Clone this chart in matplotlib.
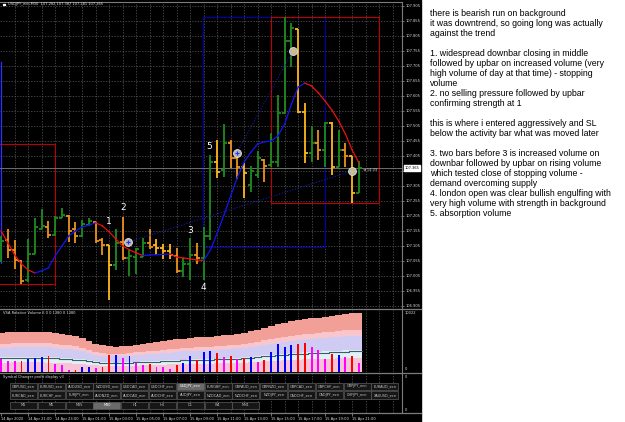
import numpy as np
import matplotlib
matplotlib.use('Agg')
import matplotlib.pyplot as plt
from matplotlib.patches import Rectangle
from matplotlib.transforms import blended_transform_factory

W, H = 625, 422

# ---- price bars (USDJPY M30) ----
bar_open = [107.108, 107.125, 107.092, 107.055, 106.992, 107.078, 107.162, 107.168, 107.142, 107.198,
            107.205, 107.162, 107.138, 107.175, 107.185, 107.125, 107.108, 107.042, 107.118, 107.065,
            107.068, 107.068, 107.115, 107.108, 107.098, 107.088, 107.072, 107.022, 107.045, 107.075,
            107.065, 107.138, 107.385, 107.358, 107.448, 107.398, 107.368, 107.308, 107.342, 107.392,
            107.375, 107.385, 107.548, 107.788, 107.828, 107.552, 107.415, 107.448, 107.425, 107.515,
            107.368, 107.425, 107.405, 107.282]
bar_high = [107.138, 107.162, 107.125, 107.058, 107.128, 107.198, 107.228, 107.188, 107.205, 107.232,
            107.208, 107.185, 107.192, 107.198, 107.185, 107.132, 107.108, 107.162, 107.202, 107.092,
            107.098, 107.132, 107.162, 107.128, 107.112, 107.112, 107.098, 107.065, 107.132, 107.115,
            107.168, 107.408, 107.458, 107.512, 107.458, 107.425, 107.382, 107.372, 107.422, 107.395,
            107.482, 107.608, 107.868, 107.848, 107.828, 107.582, 107.505, 107.492, 107.518, 107.518,
            107.492, 107.448, 107.405, 107.387]
bar_low = [107.052, 107.065, 107.028, 106.978, 106.985, 107.078, 107.160, 107.132, 107.138, 107.198,
           107.118, 107.115, 107.135, 107.172, 107.115, 107.075, 106.925, 107.025, 107.058, 107.005,
           107.012, 107.068, 107.095, 107.075, 107.062, 107.062, 107.015, 107.002, 106.992, 107.045,
           106.992, 107.125, 107.332, 107.335, 107.365, 107.328, 107.265, 107.285, 107.332, 107.318,
           107.368, 107.368, 107.548, 107.702, 107.548, 107.382, 107.385, 107.392, 107.368, 107.342,
           107.368, 107.368, 107.248, 107.281]
bar_close = [107.122, 107.092, 107.058, 106.988, 107.078, 107.168, 107.170, 107.142, 107.198, 107.208,
             107.155, 107.138, 107.178, 107.188, 107.122, 107.108, 107.042, 107.115, 107.065, 107.072,
             107.095, 107.115, 107.102, 107.098, 107.088, 107.075, 107.022, 107.045, 107.075, 107.065,
             107.138, 107.385, 107.352, 107.448, 107.398, 107.368, 107.348, 107.355, 107.398, 107.372,
             107.385, 107.548, 107.788, 107.832, 107.552, 107.415, 107.448, 107.425, 107.515, 107.368,
             107.425, 107.405, 107.282, 107.365]
# g = up bar, o = down bar, y = down bar (light)
bar_shade = "gooogggoggooggooygogggoyyyoggoggygooyggoggggyygogygoyg"

ma_line = [107.155, 107.115, 107.075, 107.045, 107.025, 107.015, 107.022, 107.032, 107.072, 107.105,
           107.138, 107.155, 107.168, 107.175, 107.182, 107.172, 107.152, 107.128, 107.105, 107.092,
           107.082, 107.073, 107.075, 107.076, 107.077, 107.078, 107.068, 107.065, 107.062, 107.058,
           107.057, 107.092, 107.148, 107.208, 107.272, 107.335, 107.385, 107.418, 107.445, 107.452,
           107.455, 107.472, 107.512, 107.578, 107.635, 107.648, 107.638, 107.615, 107.588, 107.558,
           107.522, 107.478, 107.425, 107.382]

last_price = 107.365

# ---- volume panel ----
volume = [2120, 1890, 1840, 1840, 2220, 2390, 2560, 2670, 1340, 1170,
          330, 330, 890, 890, 620, 890, 2840, 2840, 2290, 2670,
          1450, 1170, 1340, 890, 890, 500, 1120, 1450, 2720, 2000,
          3290, 3510, 3220, 2560, 2670, 2120, 2290, 2450, 1720, 2000,
          3290, 4680, 4230, 4460, 4630, 4890, 4120, 3670, 2220, 3010,
          2840, 2560, 2670, 1550]
volume_kind = "MMMRBBBRMMMRBBMRRBMBMMRMMMRBBRBBRMRMRBMRBBBBRRMMMRBMRM"
volume_avg = [2290, 2320, 2350, 2360, 2360, 2360, 2350, 2330, 2290, 2230,
              2160, 2080, 1990, 1820, 1640, 1550, 1490, 1480, 1490, 1530,
              1590, 1650, 1700, 1750, 1800, 1850, 1900, 1950, 1990, 2020,
              2050, 2070, 2100, 2150, 2190, 2240, 2290, 2380, 2480, 2590,
              2690, 2780, 2870, 2960, 3040, 3090, 3130, 3180, 3220, 3280,
              3340, 3400, 3440, 3450]
band_levels = [0.0, 0.68, 1.07, 1.76, 2.05, 2.86]
band_colours = ['#f7c4d6', '#dff0f7', '#cfcbf3', '#f9c6ce', '#f29f97']

# ---- annotations ----
price_ticks = [107.905, 107.855, 107.805, 107.755, 107.705, 107.655, 107.605, 107.555, 107.505,
               107.455, 107.405, 107.355, 107.305, 107.255, 107.205, 107.155, 107.105, 107.055,
               107.005, 106.955, 106.905]
time_bars = [0, 4, 8, 12, 16, 20, 24, 28, 32, 36, 40, 44, 48, 52]
time_labels = ['14 Apr 2020', '14 Apr 21:00', '14 Apr 23:00', '15 Apr 01:00', '15 Apr 03:00',
               '15 Apr 05:00', '15 Apr 07:00', '15 Apr 09:00', '15 Apr 11:00', '15 Apr 13:00',
               '15 Apr 15:00', '15 Apr 17:00', '15 Apr 19:00', '15 Apr 21:00']
mark_text = ['1', '2', '3', '4', '5']
mark_bar = [16, 18, 28, 30, 30.8]
mark_price = [107.185, 107.232, 107.155, 106.968, 107.435]

trade_open_bar = [18.8, 34.9]
trade_open_price = [107.118, 107.415]
trade_close_bar = [52.0, 43.2]
trade_close_price = [107.355, 107.755]

# rectangles: left bar, right bar, top, bottom, colour
boxes = [(-1.0, 7.97, 107.445, 106.978, '#c00000'),
         (29.94, 48.04, 107.868, 107.102, '#0000b0'),
         (40.04, 56.0, 107.868, 107.248, '#c00000')]

row1 = ['GBPUSD_ecn', 'EURUSD_ecn', 'AUDUSD_ecn', 'NZDUSD_ecn', 'USDCAD_ecn', 'USDCHF_ecn',
        'USDJPY_ecn', 'EURGBP_ecn', 'GBPAUD_ecn', 'GBPNZD_ecn', 'GBPCAD_ecn', 'GBPCHF_ecn',
        'GBPJPY_ecn', 'EURAUD_ecn']
row2 = ['EURCAD_ecn', 'EURCHF_ecn', 'EURJPY_ecn', 'AUDNZD_ecn', 'AUDCAD_ecn', 'AUDCHF_ecn',
        'AUDJPY_ecn', 'NZDCAD_ecn', 'NZDCHF_ecn', 'NZDJPY_ecn', 'CADCHF_ecn', 'CADJPY_ecn',
        'CHFJPY_ecn', 'XAUUSD_ecn']
row3 = ['M1', 'M5', 'M15', 'M30', 'H1', 'H4', 'D1', 'W1', 'MN1']

note_lines = [
    'there is bearish run on background',
    'it was downtrend, so going long was actually',
    'against the trend',
    '',
    '1. widespread downbar closing in middle',
    'followed by upbar on increased volume (very',
    'high volume of day at that time) - stopping',
    'volume',
    '2. no selling pressure followed by upbar',
    'confirming strength at 1',
    '',
    'this is where i entered aggressively and SL',
    'below the activity bar what was moved later',
    '',
    '3. two bars before 3 is increased volume on',
    'downbar followed by upbar on rising volume',
    'which tested close of stopping volume -',
    'demand overcoming supply',
    '4. london open was clear bullish engulfing with',
    'very high volume with strength in background',
    '5. absorption volume',
]

shade_map = {'g': '#1d8c1d', 'o': '#ec921e', 'y': '#ffb81c'}
vol_map = {'B': '#0000ff', 'R': '#ff0000', 'M': '#ff00ff'}
grid_col = '#5a5a5a'
text_col = '#d8d8d8'
tiny = 2.6

fig = plt.figure(figsize=(W / 100, H / 100), dpi=100, facecolor='white')


def px_axes(x0, y0, x1, y1, **kw):
    return fig.add_axes([x0 / W, 1 - y1 / H, (x1 - x0) / W, (y1 - y0) / H], **kw)


XLIM = (-0.178, 59.38)
idx = np.arange(len(bar_open))
grid_bars = np.arange(2, 60, 2)

bg = px_axes(0, 0, W, H, zorder=-10)
bg.set_xlim(0, W)
bg.set_ylim(H, 0)
bg.axis('off')
bg.add_patch(Rectangle((0, 0), 421, H, color='black'))

# --- main price window ---
ax = px_axes(0, 3, 402, 308)
ax.set_facecolor('none')
ax.set_xlim(*XLIM)
ax.set_ylim(106.8983, 107.915)
for s in ax.spines.values():
    s.set_visible(False)
for p in price_ticks:
    ax.axhline(p, color=grid_col, lw=0.5, ls=(0, (2, 2)), zorder=0)
for b in grid_bars:
    ax.axvline(b, color=grid_col, lw=0.5, ls=(0, (2, 2)), zorder=0)
ax.yaxis.tick_right()
ax.set_yticks(price_ticks)
ax.set_yticklabels(['' if abs(p - 107.355) < 1e-6 else f'{p:.3f}' for p in price_ticks])
ax.tick_params(axis='y', length=1.5, width=0.5, color='#a0a0a0', pad=1.2,
               labelsize=tiny, labelcolor=text_col)
ax.set_xticks([])

for x0, x1, top, bot, col in boxes:
    ax.add_patch(Rectangle((x0, bot), x1 - x0, top - bot, fill=False, ec=col, lw=0.8, zorder=1))
ax.plot([0, 0], [107.048, 107.718], color='#3030ff', lw=0.9, zorder=1)

ax.axhline(last_price, color='#808080', lw=0.6, zorder=1)

cols = [shade_map[c] for c in bar_shade]
ax.vlines(idx, bar_low, bar_high, colors=cols, lw=1.3, zorder=3)
ax.hlines(bar_open, idx - 0.45, idx, colors=cols, lw=1.3, zorder=3)
ax.hlines(bar_close, idx, idx + 0.45, colors=cols, lw=1.3, zorder=3)

for i in range(len(ma_line) - 1):
    c = '#1515ee' if ma_line[i + 1] > ma_line[i] else '#ee1010'
    ax.plot([i, i + 1], [ma_line[i], ma_line[i + 1]], color=c, lw=0.9, zorder=4)

for xo, po, xc, pc in zip(trade_open_bar, trade_open_price, trade_close_bar, trade_close_price):
    ax.plot([xo, xc], [po, pc], color='#1a1ab0', lw=0.8, ls=(0, (1, 1.5)), zorder=4)
ax.scatter(trade_open_bar + trade_close_bar, trade_open_price + trade_close_price,
           s=32, c='#b4b4b4', edgecolors='#e6e6e6', linewidths=0.6, zorder=6)
ax.scatter(trade_open_bar, trade_open_price, s=8, marker='+', c='#2030ff', linewidths=0.8, zorder=7)
ax.scatter(trade_close_bar, trade_close_price, s=5, c='#d8c070', zorder=7)

for t, x, y in zip(mark_text, mark_bar, mark_price):
    ax.text(x, y, t, color='white', fontsize=6.5, ha='center', va='center', zorder=8)

ax.text(53.6, last_price - 0.006, '\u25c4 14:09', color='#c8c8c8', fontsize=tiny, va='center', zorder=8)
tr = blended_transform_factory(ax.transAxes, ax.transData)
ax.text(1.006, last_price, f'{last_price:.3f}', transform=tr, fontsize=tiny, color='black',
        va='center', ha='left', zorder=9,
        bbox=dict(boxstyle='square,pad=0.25', fc='white', ec='white'))

# --- VSA relative volume window ---
vax = px_axes(0, 310, 402, 372)
vax.set_facecolor('none')
vax.set_xlim(*XLIM)
vax.set_ylim(0, 10356)
vax.axis('off')
for b in grid_bars:
    vax.axvline(b, color=grid_col, lw=0.5, ls=(0, (2, 2)), zorder=0)
xs = (np.repeat(idx, 2) + np.tile([-0.5, 0.5], len(idx))).astype(float)
avg = np.repeat(np.array(volume_avg, dtype=float), 2)
for k in range(len(band_colours)):
    vax.fill_between(xs, avg * band_levels[k], avg * band_levels[k + 1],
                     color=band_colours[k], lw=0, zorder=1)
vax.plot(xs, avg, color='#3f5e60', lw=0.8, zorder=2)
vax.bar(idx, volume, width=0.28, color=[vol_map[k] for k in volume_kind], zorder=3)

# --- symbol changer window + time axis ---
sax = px_axes(0, 373, 402, 412.5)
sax.set_facecolor('none')
sax.set_xlim(*XLIM)
sax.set_ylim(0, 1)
for s in sax.spines.values():
    s.set_visible(False)
for b in grid_bars:
    sax.axvline(b, color=grid_col, lw=0.5, ls=(0, (2, 2)), zorder=0)
sax.set_yticks([])
sax.set_xticks(time_bars)
sax.set_xticklabels(time_labels, ha='left')
sax.tick_params(axis='x', length=2, width=0.5, color='#a0a0a0', pad=1.2,
                labelsize=tiny, labelcolor=text_col)

# --- overlay: frames, buttons, captions, notes ---
ov = px_axes(0, 0, W, H, zorder=20)
ov.set_xlim(0, W)
ov.set_ylim(H, 0)
ov.axis('off')
ov.patch.set_visible(False)
frame = '#7c7c7c'
ov.plot([0, 402], [1.5, 1.5], color=frame, lw=0.8)
ov.plot([402, 402], [1.5, 413], color=frame, lw=0.8)
for yy in (309, 372.5, 413):
    ov.plot([0, 421], [yy, yy], color=frame, lw=0.9)


def button(x, y, label, active=False):
    ov.add_patch(Rectangle((x, y), 27, 7.4, fc='#6a6a6a' if active else '#161616',
                           ec='#5c5c5c', lw=0.5))
    ov.text(x + 13.5, y + 3.8, label, fontsize=2.5, color='white' if active else '#c8c8c8',
            ha='center', va='center')


for k, lab in enumerate(row1):
    button(10 + 27.8 * k, 382.6, lab, lab == 'USDJPY_ecn')
for k, lab in enumerate(row2):
    button(10 + 27.8 * k, 391.2, lab)
for k, lab in enumerate(row3):
    button(10 + 27.8 * k, 401.6, lab, lab == 'M30')

ov.add_patch(Rectangle((2.6, 3.6), 2, 1.2, color='white'))
ov.text(8, 4.5, 'USDJPY_ecn,M30  107.282 107.387 107.281 107.365', fontsize=tiny,
        color='#e0e0e0', va='center')
ov.text(3, 313.5, 'VSA Relative Volume 6 0 0 1380 0 1380', fontsize=tiny, color='#e0e0e0', va='center')
ov.text(3, 377.3, 'Symbol Changer profit display v3', fontsize=tiny, color='#e0e0e0', va='center')
for yy, lab in ((312.8, '10022'), (369, '0'), (376.5, '0'), (410, '0')):
    ov.text(405, yy, lab, fontsize=tiny, color=text_col, va='center')

for k, line in enumerate(note_lines):
    if line:
        ov.text(430, 16 + 10 * k, line, fontsize=6.3, family='Liberation Sans',
                color='black', va='baseline')

fig.savefig('out.png', dpi=100)
